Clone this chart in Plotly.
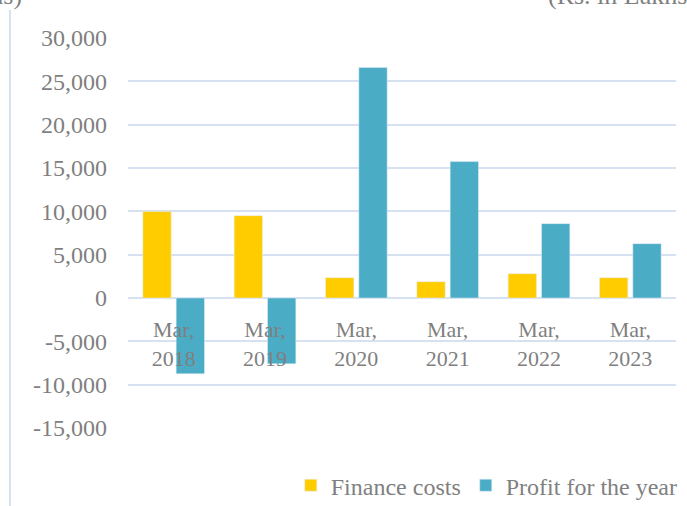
import plotly.graph_objects as go

categories = ["Mar,<br>2018", "Mar,<br>2019", "Mar,<br>2020", "Mar,<br>2021", "Mar,<br>2022", "Mar,<br>2023"]
finance_costs = [9970, 9500, 2340, 1880, 2800, 2340]
profit_for_year = [-8740, -7590, 26590, 15740, 8580, 6270]
y_tick_vals = [30000, 25000, 20000, 15000, 10000, 5000, 0, -5000, -10000, -15000]
y_tick_text = ["30,000", "25,000", "20,000", "15,000", "10,000", "5,000", "0", "-5,000", "-10,000", "-15,000"]
unit_label = "(Rs. in Lakhs)"

FONT = "Liberation Serif"
GRAY = "#7f7f7f"
GRID = "#d6e2f2"

y_min, y_max = -15000, 30000
zero_pos = (0 - y_min) / (y_max - y_min)

fig = go.Figure()
fig.add_trace(go.Bar(name="Finance costs", x=categories, y=finance_costs, marker_color="#ffcc00"))
fig.add_trace(go.Bar(name="Profit for the year", x=categories, y=profit_for_year, marker_color="#4bacc6"))

fig.update_layout(
    width=687, height=506,
    margin=dict(l=128, r=11, t=38, b=78, autoexpand=False),
    paper_bgcolor="white", plot_bgcolor="white",
    barmode="group", bargap=0.27, bargroupgap=0.15,
    font=dict(family=FONT, size=23, color=GRAY),
    showlegend=True,
    legend=dict(orientation="h", x=0.297, xanchor="left", y=-0.09, yanchor="top",
                font=dict(family=FONT, size=24, color=GRAY),
                traceorder="normal", bgcolor="rgba(0,0,0,0)"),
    xaxis=dict(anchor="free", position=zero_pos, showline=False, showgrid=False,
               ticks="", ticklabelstandoff=16, tickfont=dict(family=FONT, size=22, color=GRAY),
               zeroline=False, fixedrange=True),
    yaxis=dict(range=[y_min, y_max], tickvals=y_tick_vals, ticktext=y_tick_text,
               showgrid=True, gridcolor=GRID, gridwidth=1.5, zeroline=False,
               showline=False, ticks="", ticklabelstandoff=20,
               tickfont=dict(family=FONT, size=24, color=GRAY)),
    shapes=[dict(type="line", xref="paper", yref="paper",
                 x0=(10 - 128) / 548, x1=(10 - 128) / 548, y0=(428 - 10) / 390, y1=-0.3,
                 line=dict(color=GRID, width=2))],
    annotations=[
        dict(text=unit_label, xref="paper", yref="paper", x=(24 - 128) / 548, xanchor="right",
             y=(428 - 12) / 390, yanchor="bottom", showarrow=False,
             font=dict(family=FONT, size=26, color=GRAY)),
        dict(text=unit_label, xref="paper", yref="paper", x=(546 - 128) / 548, xanchor="left",
             y=(428 - 12) / 390, yanchor="bottom", showarrow=False,
             font=dict(family=FONT, size=26, color=GRAY)),
    ],
)

fig.write_html("out.html", config={"displayModeBar": False},
               post_script="document.body.style.margin='0';document.body.style.overflow='hidden';")
